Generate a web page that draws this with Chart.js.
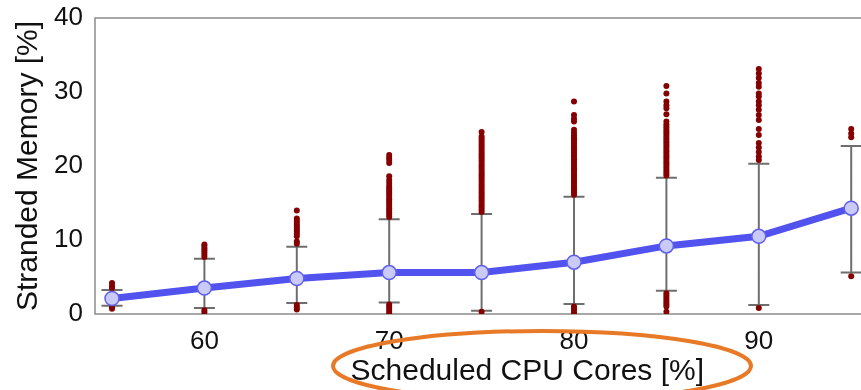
<!DOCTYPE html>
<html><head><meta charset="utf-8">
<script src="https://cdn.jsdelivr.net/npm/chart.js@4/dist/chart.umd.min.js"></script>
<style>
html,body{margin:0;padding:0;background:#fff;overflow:hidden;width:861px;height:390px;}
#wrap{position:relative;width:972px;height:390px;}
#ring{position:absolute;left:0;top:0;pointer-events:none;}
</style></head><body>
<div id="wrap"><canvas id="c" width="972" height="390"></canvas>
<svg id="ring" width="972" height="390"><ellipse cx="542" cy="366" rx="209" ry="35" fill="none" stroke="#E87926" stroke-width="4"/></svg>
</div>
<script>
const categories = [55, 60, 65, 70, 75, 80, 85, 90, 95];
const meanValues = [2.1, 3.5, 4.8, 5.6, 5.6, 7.0, 9.2, 10.5, 14.3];
const whiskerLow = [1.1, 0.8, 1.5, 1.55, 0.45, 1.35, 3.15, 1.2, 5.6];
const whiskerHigh = [3.25, 7.45, 9.1, 12.8, 13.5, 15.85, 18.4, 20.3, 22.7];
const outliersHigh = [
  [3.5, 3.8, 4.2],
  [7.7, 8.0, 8.3, 8.6, 8.9, 9.2, 9.4],
  [9.5, 9.8, 10.5, 10.8, 11.1, 11.4, 11.7, 12.0, 12.3, 12.6, 12.9, 14.0],
  [13.1, 13.4, 13.7, 14.0, 14.3, 14.6, 14.9, 15.2, 15.5, 15.8, 16.1, 16.4, 16.7, 17.0, 17.3, 17.7, 18.1, 18.6, 20.4, 20.8, 21.1, 21.5],
  [13.8, 14.1, 14.4, 14.7, 15.0, 15.3, 15.6, 15.9, 16.2, 16.5, 16.8, 17.1, 17.4, 17.7, 18.0, 18.3, 18.6, 18.9, 19.2, 19.5, 19.8, 20.1, 20.4, 20.7, 21.0, 21.3, 21.6, 21.9, 22.2, 22.5, 22.8, 23.1, 23.4, 23.7, 24.0, 24.6],
  [16.1, 16.4, 16.7, 17.0, 17.3, 17.6, 17.9, 18.2, 18.5, 18.8, 19.1, 19.4, 19.7, 20.0, 20.3, 20.6, 20.9, 21.2, 21.5, 21.8, 22.1, 22.4, 22.7, 23.0, 23.3, 23.6, 23.9, 24.2, 24.5, 24.9, 26.0, 26.4, 26.9, 28.7],
  [18.7, 19.0, 19.3, 19.6, 19.9, 20.2, 20.5, 20.8, 21.1, 21.4, 21.7, 22.0, 22.3, 22.6, 22.9, 23.2, 23.5, 23.8, 24.1, 24.4, 24.7, 25.0, 25.3, 25.6, 26.0, 27.0, 27.8, 28.2, 28.7, 29.8, 30.8],
  [20.8, 21.3, 21.9, 22.5, 23.1, 24.2, 25.0, 26.2, 26.9, 27.6, 28.2, 28.7, 29.4, 29.8, 30.7, 31.2, 31.9, 32.5, 33.1],
  [23.9, 24.4, 25.0]
];
const outliersLow = [
  [0.7, 0.9],
  [0.2, 0.5],
  [0.6, 0.9, 1.2],
  [0.1, 0.4, 0.7, 1.0, 1.3],
  [0.3],
  [0.1, 0.4, 0.7, 1.0],
  [0.3, 1.0, 1.3, 1.6, 1.9, 2.2, 2.5, 2.8],
  [0.8],
  [5.1]
];
const xTicks = [60, 70, 80, 90];
const yTicks = [0, 10, 20, 30, 40];

const FONT = "'Liberation Sans', Arial, Helvetica, sans-serif";

const meanData = categories.map((x, i) => ({x: x, y: meanValues[i]}));
const whiskerData = [];
categories.forEach((x, i) => {
  whiskerData.push({x: x, y: whiskerLow[i]});
  whiskerData.push({x: x, y: whiskerHigh[i]});
  whiskerData.push({x: x, y: null});
});
const outlierData = [];
categories.forEach((x, i) => {
  outliersHigh[i].forEach(v => outlierData.push({x: x, y: v}));
  outliersLow[i].forEach(v => outlierData.push({x: x, y: v}));
});

const framePlugin = {
  id: 'frame',
  beforeDatasetsDraw(chart) {
    const a = chart.chartArea, ctx = chart.ctx;
    ctx.save();
    ctx.strokeStyle = '#8c8c8c';
    ctx.lineWidth = 1.5;
    ctx.strokeRect(a.left, a.top, a.right - a.left, a.bottom - a.top);
    ctx.restore();
  }
};

new Chart(document.getElementById('c'), {
  type: 'line',
  data: {
    datasets: [
      {
        label: 'mean', data: meanData, order: 0,
        borderColor: '#5252ee', borderWidth: 7,
        pointRadius: 7, pointBackgroundColor: '#cacaf6',
        pointBorderColor: '#6060ee', pointBorderWidth: 1.5,
        tension: 0
      },
      {
        label: 'outliers', data: outlierData, order: 1, showLine: false,
        pointRadius: 3, pointBackgroundColor: '#850000', pointBorderWidth: 0,
        borderColor: '#850000'
      },
      {
        label: 'whiskers', data: whiskerData, order: 2, spanGaps: false,
        borderColor: '#6e6e6e', borderWidth: 2,
        pointStyle: 'line', pointRadius: 10.5,
        pointBorderColor: '#6e6e6e', pointBorderWidth: 2
      }
    ]
  },
  options: {
    responsive: false, animation: false, devicePixelRatio: 1,
    layout: {padding: {top: 18, right: 0, left: 0, bottom: 0}},
    plugins: {legend: {display: false}, tooltip: {enabled: false}},
    scales: {
      x: {
        type: 'linear', min: 54.08, max: 100.86,
        afterBuildTicks: s => { s.ticks = xTicks.map(v => ({value: v})); },
        afterFit: s => { s.height = 76; s.paddingLeft = 0; s.paddingRight = 0; },
        grid: {display: false, drawTicks: false},
        border: {display: false},
        ticks: {font: {size: 26, family: FONT}, color: '#111', padding: 12, maxRotation: 0, autoSkip: false},
        title: {display: true, text: 'Scheduled CPU Cores [%]', color: '#111',
          font: {size: 30, family: FONT}, padding: {top: 0, bottom: 0}}
      },
      y: {
        type: 'linear', min: 0, max: 40,
        afterBuildTicks: s => { s.ticks = yTicks.map(v => ({value: v})); },
        afterFit: s => { s.width = 95; s.paddingTop = 0; s.paddingBottom = 0; },
        grid: {display: false, drawTicks: false},
        border: {display: false},
        ticks: {font: {size: 26, family: FONT}, color: '#111', padding: 12},
        title: {display: true, text: 'Stranded Memory [%]', color: '#111',
          font: {size: 30, family: FONT}, padding: {top: 11, bottom: 0}}
      }
    }
  },
  plugins: [framePlugin]
});
</script>
</body></html>
